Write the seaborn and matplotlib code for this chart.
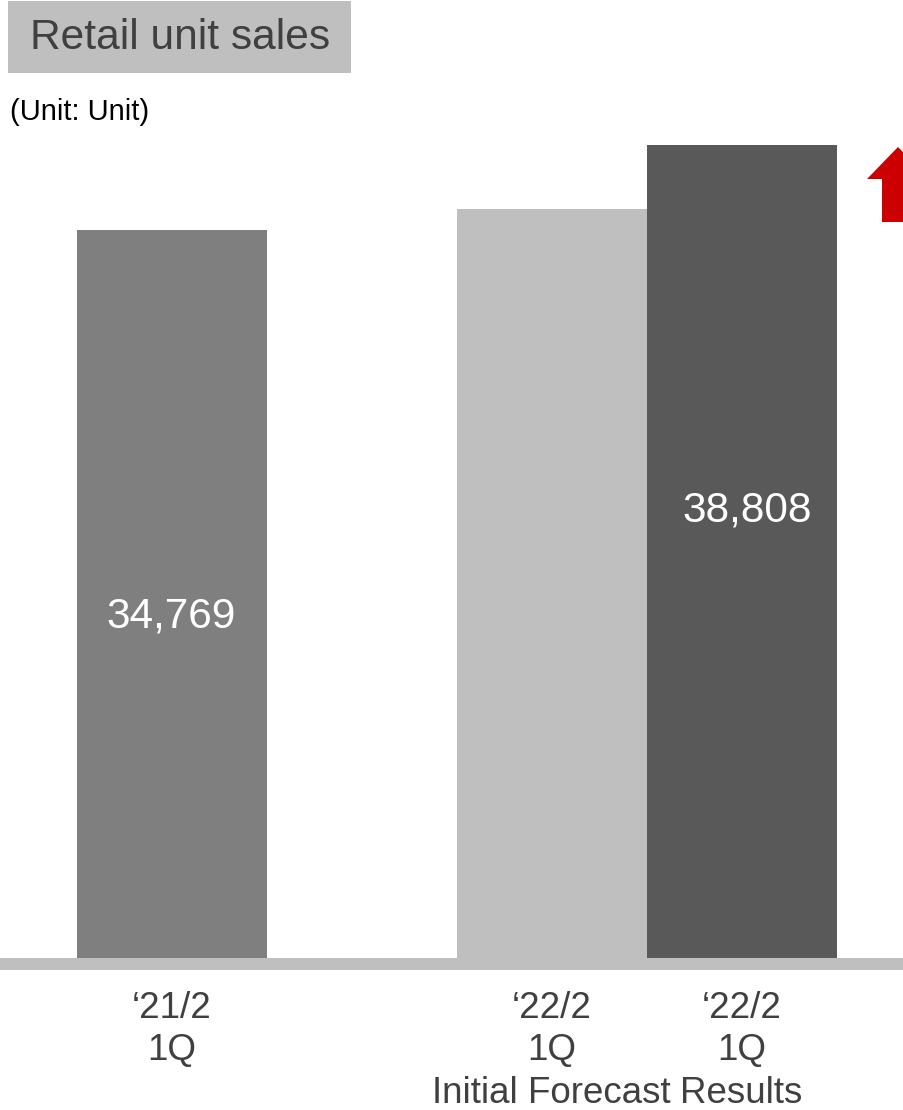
import matplotlib
matplotlib.use("Agg")
import matplotlib.pyplot as plt
from matplotlib.patches import Rectangle, Polygon
import seaborn as sns
import pandas as pd

# Retail unit sales, first quarter
categories = ["\u201821/2\n1Q", "\u201822/2\n1Q\nInitial Forecast", "\u201822/2\n1Q\nResults"]
values = [34769, 35750, 38808]
value_labels = ["34,769", None, "38,808"]
bar_colors = ["#7f7f7f", "#bfbfbf", "#595959"]
positions = [0, 2, 3]

title_text = "Retail unit sales"
unit_text = "(Unit: Unit)"

sns.set_style("white")
plt.rcParams["font.family"] = ["Liberation Sans", "DejaVu Sans"]

W, H = 904, 1110
fig = plt.figure(figsize=(W / 100, H / 100), dpi=100)

base_px = 961.4          # baseline of the bars, pixels from top
px_per_unit = 0.021045   # vertical pixels per unit sold
ax = fig.add_axes([0, 1 - base_px / H, 1, base_px / H])

df = pd.DataFrame({"pos": positions, "units": values, "name": categories})
sns.barplot(data=df, x="pos", y="units", hue="name", palette=bar_colors,
            native_scale=True, width=1.0, dodge=False, saturation=1,
            errorbar=None, legend=False, linewidth=0, ax=ax)

ax.set_xlim(-171.5 / 190, (W - 171.5) / 190)
ax.set_ylim(0, base_px / px_per_unit)
for s in ax.spines.values():
    s.set_visible(False)
ax.set_yticks([])
ax.set_ylabel("")
ax.set_xlabel("")
ax.set_xticks(positions)
ax.set_xticklabels(categories, fontsize=26.5, color="#404040", linespacing=1.28)
ax.tick_params(axis="x", length=0, pad=21)

# value labels inside the bars
label_frac = [0.472, None, 0.552]
label_dx = [0, 0, 0.03]
for p, v, lab, fr, dx in zip(positions, values, value_labels, label_frac, label_dx):
    if lab:
        ax.text(p + dx, v * fr, lab, ha="center", va="center", color="white",
                fontsize=30.5)

# baseline band
fig.patches.append(Rectangle((0, 1 - 970 / H), 1.01, 12 / H, transform=fig.transFigure,
                             facecolor="#bfbfbf", edgecolor="none", zorder=5))

# title box
fig.patches.append(Rectangle((8 / W, 1 - 73 / H), 343 / W, 72 / H,
                             transform=fig.transFigure, facecolor="#bfbfbf",
                             edgecolor="none", zorder=1))
fig.text(30 / W, 1 - 38 / H, title_text, fontsize=30.6, color="#404040",
         ha="left", va="center", zorder=2)
fig.text(10 / W, 1 - 112 / H, unit_text, fontsize=21, color="black",
         ha="left", va="center")

# red up arrow at the right edge
arrow_px = [(898, 147), (867, 179), (882, 179), (882, 222), (914, 222),
            (914, 179), (929, 179)]
fig.patches.append(Polygon([(x / W, 1 - y / H) for x, y in arrow_px], closed=True,
                           transform=fig.transFigure, facecolor="#cc0000",
                           edgecolor="none", zorder=5))

fig.savefig("out.png", dpi=100)
